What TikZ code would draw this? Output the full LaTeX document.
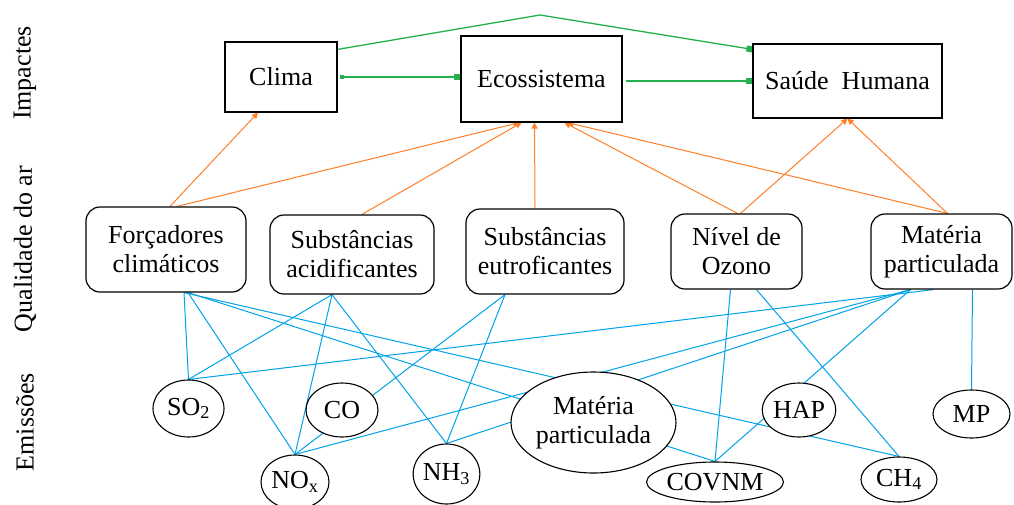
\documentclass[tikz,border=0pt]{standalone}
\usepackage{fontspec}
\setmainfont{Liberation Serif}
\usetikzlibrary{arrows.meta,backgrounds,calc,shapes.geometric}
\definecolor{gline}{RGB}{34,177,76}
\definecolor{oline}{RGB}{255,127,39}
\definecolor{bline}{RGB}{0,162,232}
\begin{document}
\begin{tikzpicture}[x=1pt,y=-1pt,font=\fontsize{26}{29}\selectfont,
  impbox/.style={draw,line width=1.2pt,fill=white,inner sep=2pt},
  qualbox/.style={draw,rounded corners=14pt,line width=1.2pt,fill=white,align=center,inner sep=2pt},
  emibox/.style={draw,ellipse,line width=1.1pt,fill=white,align=center,inner sep=0pt},
  sidelab/.style={rotate=90,inner sep=0pt},
  blu/.style={bline,line width=1pt},
  oarr/.style={oline,line width=1pt,-{Triangle[length=6pt,width=6pt]}},
  garr/.style={gline,line width=1.3pt,-{Square[length=6pt,width=6pt]}}
]
\useasboundingbox (0,0) rectangle (1014,504);

% side labels
\node[sidelab] (limp) at (25,73) {Impactes};
\node[sidelab] (lqual) at (25,249) {Qualidade do ar};
\node[sidelab] (lemi) at (25,422) {Emissões};

% impacts
\node[impbox,minimum width=112pt,minimum height=70pt] (clima) at (281,77) {Clima};
\node[impbox,minimum width=161pt,minimum height=86pt] (eco) at (541.5,79) {Ecossistema};
\node[impbox,minimum width=189pt,minimum height=74pt] (saude) at (847.5,81) {Saúde\ \ Humana};

% air quality
\node[qualbox,minimum width=160pt,minimum height=85pt] (forc) at (166,249.5) {Forçadores\\climáticos};
\node[qualbox,minimum width=164pt,minimum height=79pt] (acid) at (352,254.5) {Substâncias\\acidificantes};
\node[qualbox,minimum width=158pt,minimum height=85pt] (eutr) at (545,251.5) {Substâncias\\eutroficantes};
\node[qualbox,minimum width=131pt,minimum height=75pt] (ozon) at (736.5,251.5) {Nível de\\Ozono};
\node[qualbox,minimum width=141pt,minimum height=75pt] (matq) at (941.5,251.5) {Matéria\\particulada};

% emissions
\node[emibox,minimum width=71pt,minimum height=57pt] (so2) at (188.5,408.5) {SO\textsubscript{2}};
\node[emibox,minimum width=72pt,minimum height=54pt] (co) at (342,410) {CO};
\node[emibox,minimum width=68pt,minimum height=54pt] (nox) at (295,482) {NO\textsubscript{x}};
\node[emibox,minimum width=63pt,minimum height=60pt] (nh3) at (446.5,474) {NH\textsubscript{3}};
\node[emibox,minimum width=165pt,minimum height=101pt] (mpe) at (593.5,422.5) {Matéria\\particulada};
\node[emibox,minimum width=68pt,minimum height=54pt] (hap) at (799,410) {HAP};
\node[emibox,minimum width=77pt,minimum height=48pt] (mp) at (971.5,414) {MP};
\node[emibox,minimum width=136pt,minimum height=40pt] (covnm) at (715,482) {COVNM};
\node[emibox,minimum width=76pt,minimum height=45pt] (ch4) at (899,479.5) {CH\textsubscript{4}};

\coordinate (peak) at (540,15);

\begin{scope}[on background layer]
% blue connectors
\draw[blu] ([xshift=18pt]forc.south) -- (so2.north);
\draw[blu] ([xshift=22pt]forc.south) -- (nox.north);
\draw[blu] ([xshift=22pt]forc.south) -- (covnm.north);
\draw[blu] ([xshift=18pt]forc.south) -- (ch4.north);
\draw[blu] ([xshift=-20pt]acid.south) -- (so2.north);
\draw[blu] ([xshift=-20pt]acid.south) -- (nox.north);
\draw[blu] ([xshift=-20pt]acid.south) -- (nh3.north);
\draw[blu] ([xshift=-40pt]eutr.south) -- (nox.north);
\draw[blu] ([xshift=-40pt]eutr.south) -- (nh3.north);
\draw[blu] ([xshift=-6pt]ozon.south) -- (covnm.north);
\draw[blu] ([xshift=20pt]ozon.south) -- (ch4.north);
\draw[blu] ([xshift=-8pt]matq.south) -- (so2.north);
\draw[blu] ([xshift=-31pt]matq.south) -- (nox.north);
\draw[blu] ([xshift=-31pt]matq.south) -- (nh3.north);
\draw[blu] ([xshift=-31pt]matq.south) -- (covnm.north);
\draw[blu] ([xshift=31pt]matq.south) -- (mp.north);
% orange arrows
\draw[oarr] ([xshift=4pt]forc.north) -- ([xshift=-23pt]clima.south);
\draw[oarr] ([xshift=11pt]forc.north) -- ([xshift=-22pt]eco.south);
\draw[oarr] ([xshift=10pt]acid.north) -- ([xshift=-20pt]eco.south);
\draw[oarr] ([xshift=-10pt]eutr.north) -- ([xshift=-7pt]eco.south);
\draw[oarr] ([xshift=1pt]ozon.north) -- ([xshift=23pt]eco.south);
\draw[oarr] ([xshift=6pt]matq.north) -- ([xshift=26pt]eco.south);
\draw[oarr] ([xshift=4pt]ozon.north) -- (saude.south);
\draw[oarr] ([xshift=6pt]matq.north) -- (saude.south);
% green arrows
\draw[garr,{Square[length=4pt,width=4pt]}-{Square[length=6pt,width=6pt]}] ([xshift=2pt]clima.east) -- (clima.east -| eco.west);
\draw[garr] ([xshift=3pt]eco.east |- saude.west) -- (saude.west);
\draw[garr] ([yshift=-8pt]clima.north east) -- (peak) -- ([yshift=-6pt]saude.north west);
\end{scope}
\end{tikzpicture}
\end{document}
